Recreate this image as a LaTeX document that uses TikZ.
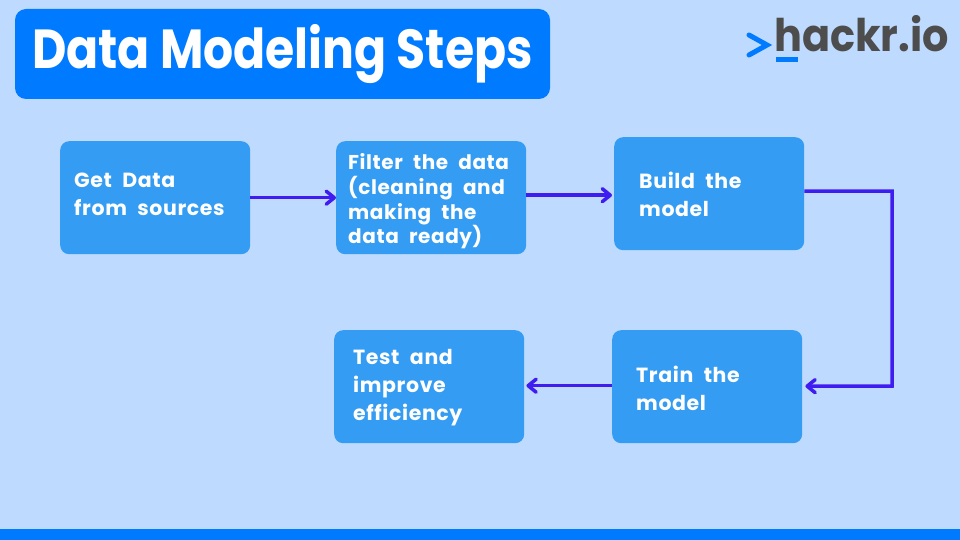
\documentclass[tikz,border=0pt]{standalone}
\usepackage{fontspec}
\usetikzlibrary{arrows.meta,calc}
\setmainfont{Poppins}
\newfontfamily\titlefont[WordSpace=1.8]{Poppins}
\newfontfamily\boxfont[WordSpace=2.1,LetterSpace=3]{Poppins}
\newfontfamily\logofont{Poppins}
\definecolor{pagebg}{HTML}{BFDAFF}
\definecolor{brandblue}{HTML}{007BFF}
\definecolor{stepblue}{HTML}{349CF2}
\definecolor{arrowviolet}{HTML}{3F1CF0}
\definecolor{logogrey}{HTML}{4D4D4D}
\tikzset{
  x=1pt,y=-1pt,
  stepbox/.style={fill=stepblue,rounded corners=9pt,minimum width=190pt,minimum height=113pt,inner sep=0pt,anchor=north west},
  steptext/.style={text=white,anchor=west,align=left,inner sep=0pt,font=\boxfont\bfseries\fontsize{20.5}{28}\selectfont},
  flow/.style={draw=arrowviolet,line width=3.5pt,-{Straight Barb[length=8pt,width=13pt,line width=3.5pt,round]}},
}
\begin{document}
\begin{tikzpicture}
\useasboundingbox (0,0) rectangle (960,540);
\fill[pagebg] (0,0) rectangle (960,540);
\fill[brandblue] (0,529) rectangle (960,540);
\fill[brandblue,rounded corners=11pt] (15,9) rectangle (550,99);
\node[anchor=base west,inner sep=0pt,text=white,font=\titlefont\bfseries\fontsize{55}{55}\selectfont] (title) at (32,69) {\scalebox{0.86}[1]{Data Modeling Steps}};
% logo
\draw[brandblue,line width=5pt,line cap=round,line join=miter] (749,35) -- (767,45) -- (749,55);
\fill[brandblue] (776,57) rectangle (798,62);
\node[anchor=base west,inner sep=0pt,text=logogrey,font=\logofont\bfseries\fontsize{45}{45}\selectfont] (logo) at (774,52) {\scalebox{0.92}[1]{hackr.io}};
% boxes
\node[stepbox] (a) at (60,141) {};
\node[stepbox] (b) at (336,141) {};
\node[stepbox] (c) at (614,137) {};
\node[stepbox] (d) at (612,330) {};
\node[stepbox] (e) at (334,330) {};
\node[steptext] (ta) at (74,194) {Get Data\\from sources};
\node[steptext,font=\boxfont\bfseries\fontsize{20}{24.6}\selectfont] (tb) at (348,201.5) {Filter the data\\(cleaning and\\making the\\data ready)};
\node[steptext] (tc) at (639,194) {Build the\\model};
\node[steptext] (td) at (636,388) {Train the\\model};
\node[steptext] (te) at (353,388) {Test and\\improve\\efficiency};
% connectors
\draw[flow] (a.east) -- (b.west);
\draw[flow] ($(b.east)+(0,-2.5)$) -- ($(c.west)+(-2,1.5)$);
\coordinate (bend) at (892,191);
\draw[flow] (c.east |- bend) -- (bend) -- (892,386) -- ($(d.east)+(3,-0.5)$);
\draw[flow] ($(d.west)+(0,-1)$) -- ($(e.east)+(2,-1)$);
\end{tikzpicture}
\end{document}
